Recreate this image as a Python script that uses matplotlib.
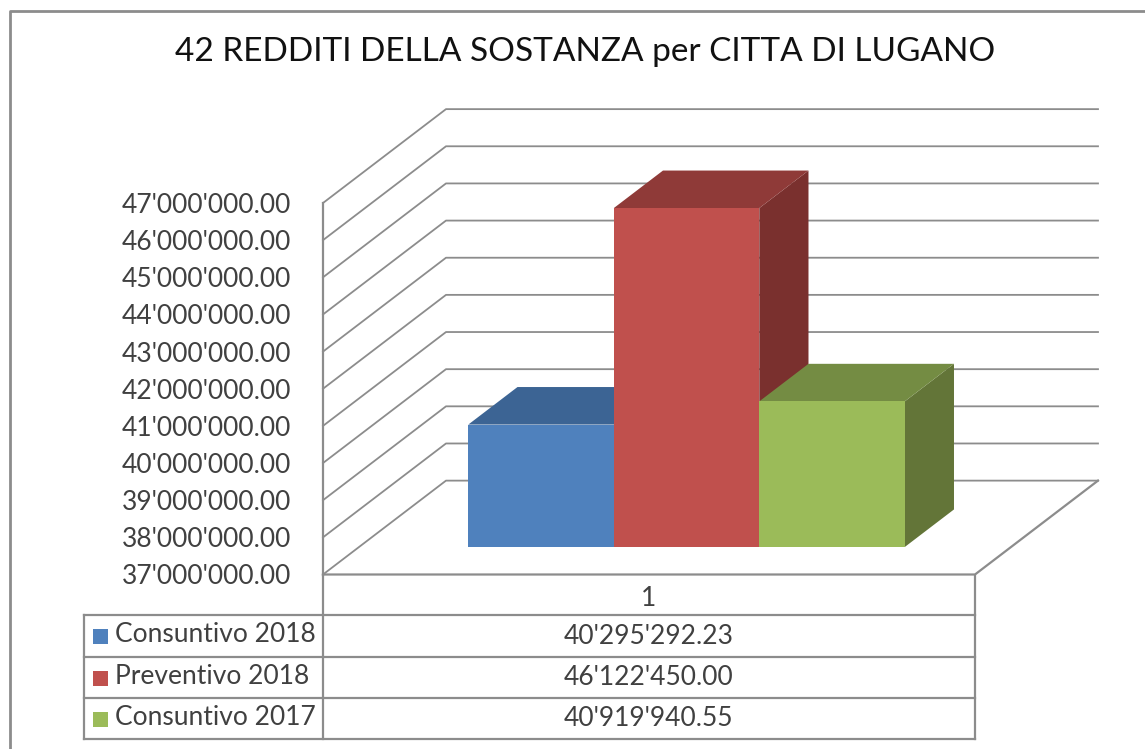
import numpy as np
import matplotlib
matplotlib.use('Agg')
import matplotlib.pyplot as plt
from matplotlib.patches import Polygon, Rectangle

titolo = '42 REDDITI DELLA SOSTANZA per CITTA DI LUGANO'
categorie = ['1']
serie = ['Consuntivo 2018', 'Preventivo 2018', 'Consuntivo 2017']
valori = [40295292.23, 46122450.00, 40919940.55]
colori_fronte = ['#4F81BD', '#C0504D', '#9BBB59']
colori_sopra = ['#3C6494', '#8F3A38', '#748C43']
colori_lato = ['#2F4F76', '#7A302E', '#637538']
tick_y = np.arange(37000000, 47000001, 1000000)

W, H = 1145, 749
GRIGIO = '#8C8C8C'
TESTO = '#404040'
plt.rcParams['font.family'] = ['Lato', 'DejaVu Sans']

# profondita' finta 3D: spostamento del fondo in unita' dei dati
DX = 123 / 652
DY = 94 / 37.2 * 1e6
P_FRONTE, P_RETRO = 0.293, 0.693
LARGHEZZA = 145.5 / 652


def proietta(x, y, p):
    return (x + p * DX, y + p * DY)


def formatta(v):
    return f"{v:,.2f}".replace(',', "'")


fig = plt.figure(figsize=(W / 100, H / 100), dpi=100)

# livello in pixel per cornice e tabella
sfondo = fig.add_axes([0, 0, 1, 1])
sfondo.set_xlim(0, W)
sfondo.set_ylim(H, 0)
sfondo.axis('off')
sfondo.plot([10, 10, W], [H, 11, 11], color=GRIGIO, lw=2)

sx, dx, sep = 84, 975, 323
righe = [615, 657, 698, 739]
for r in righe:
    sfondo.plot([sx, dx], [r, r], color=GRIGIO, lw=1.6)
sfondo.plot([sx, sx], [righe[0], righe[-1]], color=GRIGIO, lw=1.6)
sfondo.plot([sep, sep], [574.5, righe[-1]], color=GRIGIO, lw=1.6)
sfondo.plot([dx, dx], [574.5, righe[-1]], color=GRIGIO, lw=1.6)

for i, nome in enumerate(serie):
    mezzo = (righe[i] + righe[i + 1]) / 2
    sfondo.add_patch(Rectangle((93, mezzo - 7), 15, 15, color=colori_fronte[i], lw=0))
    sfondo.text(115, mezzo - 1, nome, fontsize=19, color=TESTO, va='center', ha='left')
    sfondo.text((sep + dx) / 2 - 0.5, mezzo, formatta(valori[i]), fontsize=19, color=TESTO,
                va='center', ha='center')

sfondo.text(585, 52, titolo, fontsize=24, color='#111111', ha='center', va='center')

# asse del grafico: piano frontale
ax = fig.add_axes([323 / W, 1 - 574.5 / H, 652 / W, 371.5 / H])
ax.patch.set_alpha(0)
ax.set_xlim(0, 1)
ax.set_ylim(tick_y[0], tick_y[-1])
for s in ax.spines.values():
    s.set_visible(False)
ax.set_yticks(tick_y)
ax.set_yticklabels([formatta(t) for t in tick_y], fontsize=19, color=TESTO)
ax.set_xticks([0.5])
ax.set_xticklabels(categorie, fontsize=19, color=TESTO)
ax.tick_params(axis='y', length=0, pad=23)
ax.tick_params(axis='x', length=0, pad=8)

# griglia su pareti e pavimento
for t in tick_y:
    x0, y0 = proietta(0, t, 0)
    x1, y1 = proietta(0, t, 1)
    x2, y2 = proietta(1, t, 1)
    ax.plot([x0, x1, x2], [y0, y1, y2], color=GRIGIO, lw=1.3, clip_on=False, zorder=1)
ax.plot([0, 0], [tick_y[0], tick_y[-1]], color=GRIGIO, lw=1.6, clip_on=False, zorder=1)
xa, ya = proietta(1, tick_y[0], 1)
ax.plot([0, 1, xa], [tick_y[0], tick_y[0], ya], color=GRIGIO, lw=1.6, clip_on=False, zorder=1)

# barre, da sinistra a destra
base = tick_y[0]
inizio = 0.5 - LARGHEZZA * len(valori) / 2 + 1.5 / 652
for i, v in enumerate(valori):
    a = inizio + i * LARGHEZZA
    b = a + LARGHEZZA
    lato = [proietta(b, base, P_FRONTE), proietta(b, base, P_RETRO),
            proietta(b, v, P_RETRO), proietta(b, v, P_FRONTE)]
    sopra = [proietta(a, v, P_FRONTE), proietta(b, v, P_FRONTE),
             proietta(b, v, P_RETRO), proietta(a, v, P_RETRO)]
    fronte = [proietta(a, base, P_FRONTE), proietta(b, base, P_FRONTE),
              proietta(b, v, P_FRONTE), proietta(a, v, P_FRONTE)]
    for punti, colore in ((lato, colori_lato[i]), (sopra, colori_sopra[i]), (fronte, colori_fronte[i])):
        ax.add_patch(Polygon(punti, closed=True, facecolor=colore, edgecolor='none',
                             clip_on=False, zorder=3 + i))

fig.savefig('out.png', dpi=100)
